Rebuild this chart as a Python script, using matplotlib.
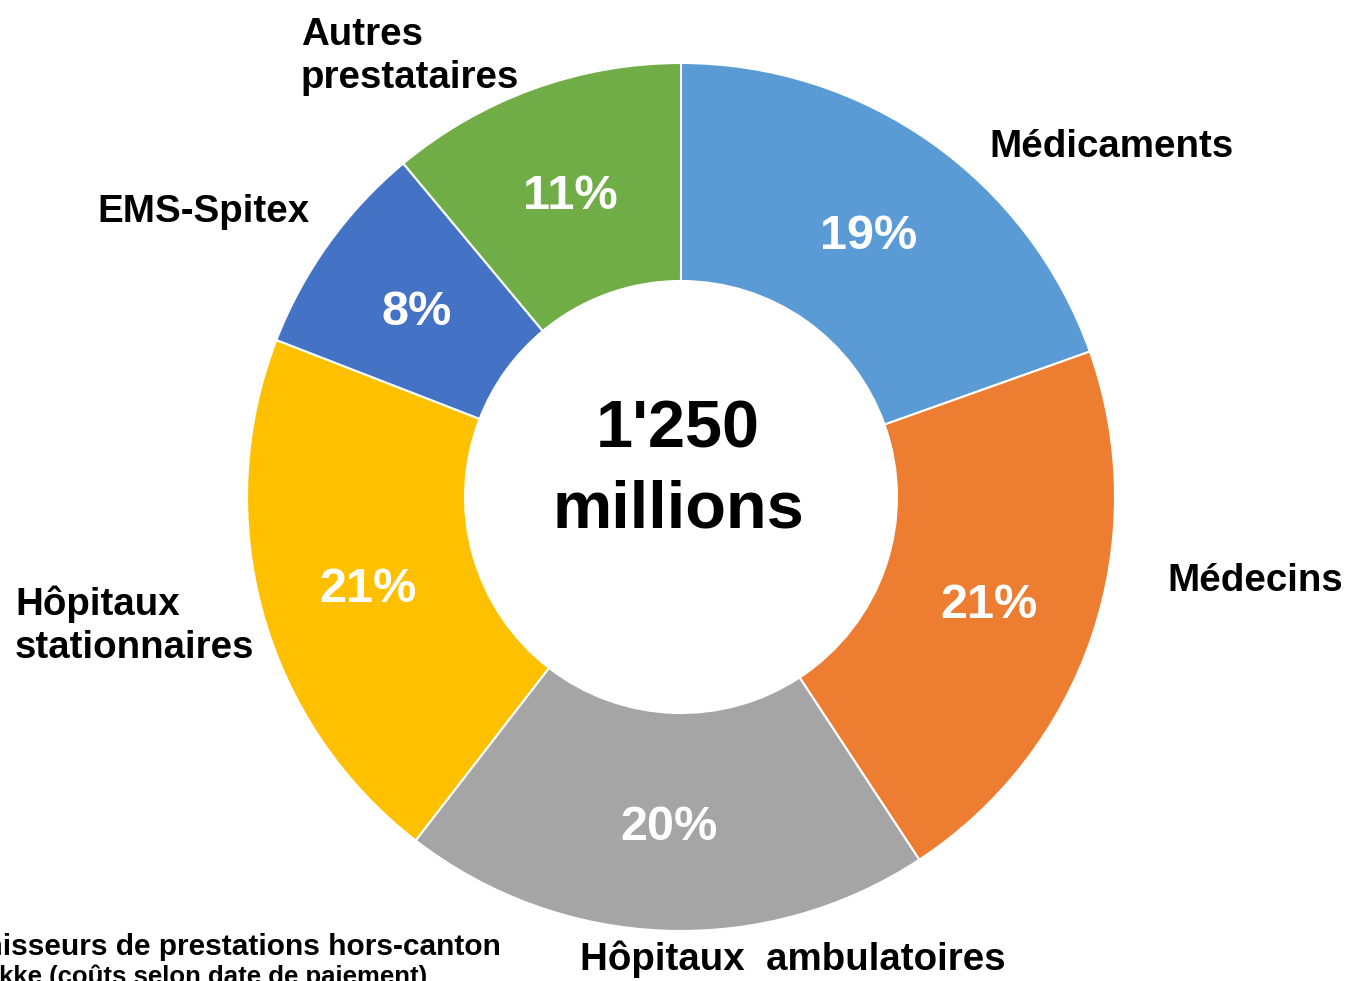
import numpy as np
import matplotlib.pyplot as plt

plt.rcParams['font.family'] = ['Liberation Sans', 'DejaVu Sans']

# parts des coûts
categories = ['Médicaments', 'Médecins', 'Hôpitaux ambulatoires',
              'Hôpitaux stationnaires', 'EMS-Spitex', 'Autres prestataires']
shares = [19.56, 21.19, 19.72, 20.42, 8.06, 11.05]
pct_labels = ['19%', '21%', '20%', '21%', '8%', '11%']
colors = ['#5B9BD5', '#ED7D31', '#A5A5A5', '#FFC000', '#4472C4', '#70AD47']
total_text = ["1'250", 'millions']

W, H = 1349, 981
fig = plt.figure(figsize=(W / 100, H / 100), dpi=100)
ax = fig.add_axes([0, 0, 1, 1])
ax.set_aspect('equal')

cx, cy = 681, H - 497
r_out, r_in = 434, 216

wedges, _ = ax.pie(shares, colors=colors, startangle=90, counterclock=False,
                   center=(cx, cy), radius=r_out, frame=True,
                   wedgeprops=dict(width=r_out - r_in, edgecolor='white', linewidth=1.5))
ax.set_xlim(0, W)
ax.set_ylim(0, H)
ax.axis('off')

# pourcentages au milieu de l'anneau
r_mid = (r_out + r_in) / 2
for w, lab in zip(wedges, pct_labels):
    ang = np.deg2rad((w.theta1 + w.theta2) / 2)
    x = cx + r_mid * np.cos(ang)
    y = cy + r_mid * np.sin(ang)
    ax.text(x, y - 18, lab, color='white', fontsize=35, fontweight='bold',
            ha='center', va='baseline')

# total au centre
ax.text(cx - 3, H - 447, total_text[0], fontsize=48, fontweight='bold', ha='center', va='baseline')
ax.text(cx - 3, H - 527, total_text[1], fontsize=48, fontweight='bold', ha='center', va='baseline')

# étiquettes extérieures
fs = 27.7
ax.text(1111, H - 157, 'Médicaments', fontsize=fs, fontweight='bold', ha='center', va='baseline')
ax.text(1255, H - 591, 'Médecins', fontsize=fs, fontweight='bold', ha='center', va='baseline')
ax.text(793, H - 970, 'Hôpitaux  ambulatoires', fontsize=fs, fontweight='bold', ha='center', va='baseline')
ax.text(15, H - 615, 'Hôpitaux', fontsize=fs, fontweight='bold', ha='left', va='baseline')
ax.text(15, H - 658, 'stationnaires', fontsize=fs, fontweight='bold', ha='left', va='baseline')
ax.text(203, H - 222, 'EMS-Spitex', fontsize=fs, fontweight='bold', ha='center', va='baseline')
ax.text(301, H - 45, 'Autres', fontsize=fs, fontweight='bold', ha='left', va='baseline')
ax.text(301, H - 88, 'prestataires', fontsize=fs, fontweight='bold', ha='left', va='baseline')

# note en bas à gauche (coupée par le bord, comme sur l'original)
ax.text(501, H - 955, 'Fournisseurs de prestations hors-canton', fontsize=21.5,
        fontweight='bold', ha='right', va='baseline')
ax.text(427, H - 984, 'Source : OFSP, monitoring Mokke (coûts selon date de paiement)',
        fontsize=18.5, fontweight='bold', ha='right', va='baseline')

fig.savefig('out.png', dpi=100)
